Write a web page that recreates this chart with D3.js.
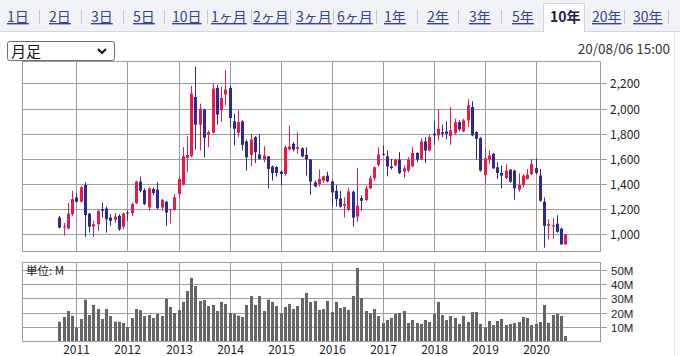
<!DOCTYPE html>
<html><head><meta charset="utf-8">
<script src="https://cdn.jsdelivr.net/npm/d3@7"></script>
<style>
html,body{margin:0;padding:0;background:#fff;}
svg{display:block;font-family:"Noto Sans CJK JP","Noto Sans",sans-serif;}
</style></head>
<body>
<svg id="c" width="680" height="356"></svg>
<script>
// ---- data ----
const tabs = ["1日","2日","3日","5日","10日","1ヶ月","2ヶ月","3ヶ月","6ヶ月","1年","2年","3年","5年","10年","20年","30年"];
const activeTab = "10年";
const periodLabel = "月足";
const stamp = "20/08/06 15:00";
const unitLabel = "単位: M";
const months = d3.utcMonth.range(new Date(Date.UTC(2010,8,1)), new Date(Date.UTC(2020,8,2)));
const open  = [1133,1055,1045,1160, 1293,1259,1392,1165,1061,1080,1200,1205,1133,1115,1147,1061,
  1173,1168,1248,1419,1352,1213,1360,1355,1213,1259,1195,1195,
  1320,1395,1608,1621,2093,1872,1992,1792,1808,2165,1987,2112,
  2165,1899,1808,1899,1739,1632,1773,1635,1595,1621,1539,1535,
  1499,1480,1675,1720,1680,1685,1632,1595,1413,1400,1427,1467,
  1421,1347,1285,1227,1195,1339,1141,1288,1272,1365,1445,1552,
  1640,1621,1540,1547,1595,1499,1507,1541,1648,1595,1739,1667,
  1800,1787,1813,1819,1781,1805,1893,1819,1907,2013,1813,1765,
  1472,1595,1640,1533,1488,1448,1515,1507,1355,1392,1440,1480,
  1525,1467,1259,1067,1061,1085,1045,920];
const high  = [1147,1090,1248,1347, 1330,1387,1413,1170,1107,1192,1253,1221,1160,1168,1160,1173,
  1187,1253,1427,1461,1365,1373,1373,1413,1280,1267,1200,1320,
  1467,1693,1781,2181,2333,2040,2000,1827,2200,2187,2173,2307,
  2187,1960,1987,1907,1755,1800,1781,1800,1701,1621,1547,1540,
  1507,1707,1867,1733,1813,1693,1693,1600,1427,1515,1467,1499,
  1427,1392,1347,1293,1373,1347,1525,1309,1387,1467,1541,1693,
  1707,1667,1600,1600,1653,1547,1613,1693,1653,1765,1773,1792,
  1899,1995,1872,1899,2013,1920,1907,1920,2075,2059,1819,1773,
  1680,1667,1648,1573,1547,1560,1520,1515,1485,1480,1520,1600,
  1605,1520,1293,1120,1128,1152,1053,1000];
const low   = [1048,990,1040,1147, 1253,1253,979,1013,981,1027,1133,1013,1067,1093,1027,1040,
  1107,1147,1240,1333,1232,1187,1312,1200,1187,1067,1088,1187,
  1285,1387,1493,1613,1675,1667,1613,1693,1800,1872,1893,2027,
  1853,1707,1773,1667,1507,1541,1568,1595,1573,1365,1427,1460,
  1387,1467,1667,1659,1640,1613,1467,1315,1373,1381,1408,1413,
  1221,1221,1213,1133,1187,1061,1099,1187,1267,1360,1427,1541,
  1627,1461,1515,1541,1480,1445,1493,1533,1573,1592,1568,1659,
  1712,1747,1773,1755,1712,1792,1819,1813,1853,1781,1595,1499,
  1408,1560,1520,1440,1365,1440,1408,1275,1339,1373,1435,1472,
  1480,1259,893,960,965,1013,917,917];
const close = [1053,1062,1165,1280, 1259,1373,1152,1061,1080,1187,1187,1120,1107,1141,1040,1165,
  1165,1240,1419,1347,1240,1365,1328,1208,1275,1173,1200,1293,
  1440,1621,1632,2120,1872,2000,1768,1813,2160,1952,2085,2152,
  1925,1840,1893,1712,1613,1755,1653,1600,1627,1520,1488,1488,
  1480,1693,1699,1675,1693,1619,1595,1419,1381,1440,1461,1421,
  1333,1280,1221,1240,1341,1133,1227,1267,1365,1445,1533,1635,
  1635,1539,1528,1592,1488,1525,1595,1648,1595,1739,1667,1773,
  1787,1840,1800,1800,1827,1893,1835,1907,2027,1787,1760,1507,
  1605,1627,1525,1488,1467,1507,1419,1365,1392,1467,1475,1560,
  1488,1267,1067,1080,1072,1019,920,1000];
const volume = [13.6,16.9,21.1,17.8, 9.4,15.5,29.1,18.3,25.4,22.5,15.5,22.5,17.6,13.6,13.6,12.7,
  9.9,16.2,22.5,21.8,17.6,18.3,16.2,19.0,17.6,29.6,23.9,19.7,
  21.8,27.5,35.2,44.4,38.7,28.2,28.9,24.6,25.4,21.1,27.5,26.1,
  19.7,19.0,17.8,16.9,25.4,31.7,25.4,31.7,21.1,29.1,27.5,24.6,
  19.5,23.9,26.1,22.5,24.6,30.3,33.8,27.5,28.2,21.8,22.5,28.2,
  20.4,27.5,23.2,23.9,21.8,31.7,51.4,30.3,21.1,19.5,22.5,17.6,
  12.7,14.8,16.2,19.0,19.7,21.1,12.7,14.8,12.7,12.0,14.8,13.4,
  19.0,27.5,18.3,14.8,17.6,16.2,12.0,17.6,13.4,20.4,20.4,12.0,
  9.4,14.1,11.3,14.1,15.5,11.3,12.0,12.7,13.4,16.9,16.2,11.3,
  12.0,13.4,25.4,12.7,18.3,19.0,17.6,3.5];
const priceTicks = [1000,1200,1400,1600,1800,2000,2200];
const volTicks = [10,20,30,40,50];
const yearTicks = d3.range(2011, 2021);

// ---- layout ----
const svg = d3.select("#c");
const L = 22, R = 601, PT = 61, PB = 251, VT = 262, VB = 341;
const gridColor = "#9d9d9d";
const upColor = "#e8194b", downColor = "#2b2a90";

// tab bar
svg.append("rect").attr("x",0).attr("y",0).attr("width",680).attr("height",31).attr("fill","#f1f2f6");
svg.append("line").attr("x1",0).attr("x2",680).attr("y1",31.5).attr("y2",31.5).attr("stroke","#d4d6dc");
svg.append("line").attr("x1",674.5).attr("x2",674.5).attr("y1",31).attr("y2",356).attr("stroke","#e2e4ea");
const tabX = [7,49,91,133,172,211,253,296,337,384,427,469,512,550,592,633];
const sepX = [39,81,123,164,207,251,290,333,376,417,458,501,624,668];
sepX.forEach(x => svg.append("line").attr("x1",x+0.5).attr("x2",x+0.5).attr("y1",10).attr("y2",24).attr("stroke","#c8c8c8"));
// active tab box
svg.append("path").attr("d","M543.5,32 V3.5 H584.5 V32").attr("fill","#fff").attr("stroke","#d4d6dc");
svg.append("rect").attr("x",544).attr("y",30).attr("width",40).attr("height",3).attr("fill","#fff");
tabs.forEach((t,i) => {
  const act = t === activeTab;
  svg.append("text").attr("x",tabX[i]).attr("y",22).text(t)
    .attr("font-size",14).attr("fill", act ? "#1d1d4f" : "#34429a")
    .attr("font-weight", act ? "bold" : "normal")
    .attr("text-decoration", act ? "none" : "underline");
});

// dropdown
svg.append("rect").attr("x",7.5).attr("y",41.5).attr("width",107).attr("height",19).attr("rx",2)
  .attr("fill","#fff").attr("stroke","#6e6e6e");
svg.append("text").attr("x",11).attr("y",57).text(periodLabel).attr("font-size",15).attr("fill","#111");
svg.append("path").attr("d","M98,49 L102,53 L106,49").attr("fill","none").attr("stroke","#111").attr("stroke-width",2);
svg.append("text").attr("x",670).attr("y",54).attr("text-anchor","end").text(stamp).attr("font-size",13.5).attr("fill","#333");

// scales
const x = d3.scaleUtc().domain([new Date(Date.UTC(2009,11,7)), new Date(Date.UTC(2021,3,13))]).range([L,R]);
const y = d3.scaleLinear().domain([867,2379]).range([PB,PT]);
const yv = d3.scaleLinear().domain([0,55.6]).range([VB,VT]);
const yearDate = yr => new Date(Date.UTC(yr,0,1));

// price panel grid
const gp = svg.append("g");
priceTicks.forEach(p => {
  const yy = Math.round(y(p))+0.5;
  gp.append("line").attr("x1",L).attr("x2",R+6).attr("y1",yy).attr("y2",yy).attr("stroke",gridColor);
  gp.append("text").attr("x",610).attr("y",yy+4.5).text(d3.format(",")(p)).attr("font-size",12).attr("fill","#222");
});
yearTicks.forEach(yr => {
  const xx = Math.round(x(yearDate(yr)))+0.5;
  gp.append("line").attr("x1",xx).attr("x2",xx).attr("y1",PT).attr("y2",PB).attr("stroke",gridColor);
});
gp.append("rect").attr("x",L+0.5).attr("y",PT+0.5).attr("width",R-L-1).attr("height",PB-PT).attr("fill","none").attr("stroke",gridColor);

// volume panel grid
const gv = svg.append("g");
volTicks.forEach(v => {
  const yy = Math.round(yv(v))+0.5;
  gv.append("line").attr("x1",L).attr("x2",R+6).attr("y1",yy).attr("y2",yy).attr("stroke",gridColor);
  gv.append("text").attr("x",611).attr("y",yy+4).text(v+"M")
    .attr("font-family","'Liberation Sans',Arial,sans-serif").attr("font-size",11.5).attr("fill","#222");
});
yearTicks.forEach(yr => {
  const xx = Math.round(x(yearDate(yr)))+0.5;
  gv.append("line").attr("x1",xx).attr("x2",xx).attr("y1",VT).attr("y2",VB).attr("stroke",gridColor);
  gv.append("text").attr("x",xx).attr("y",354).attr("text-anchor","middle").text(yr).attr("font-size",12).attr("fill","#222");
});
gv.append("rect").attr("x",L+0.5).attr("y",VT+0.5).attr("width",R-L-1).attr("height",VB-VT).attr("fill","none").attr("stroke",gridColor);
gv.append("text").attr("x",26).attr("y",275).text(unitLabel).attr("font-size",11.5).attr("fill","#222");

// volume bars
gv.selectAll("rect.v").data(months).join("rect").attr("class","v")
  .attr("x",(d)=>Math.round(x(d))-1).attr("width",3)
  .attr("y",(d,i)=>yv(volume[i])).attr("height",(d,i)=>VB-yv(volume[i]))
  .attr("fill","#666");

// candles
const gc = svg.append("g");
months.forEach((d,i) => {
  const cx = Math.round(x(d));
  const up = close[i] >= open[i];
  const col = up ? upColor : downColor;
  gc.append("line").attr("x1",cx+0.5).attr("x2",cx+0.5).attr("y1",y(high[i])).attr("y2",y(low[i])).attr("stroke",col);
  const top = y(Math.max(open[i],close[i])), bot = y(Math.min(open[i],close[i]));
  gc.append("rect").attr("x",cx-1).attr("width",3).attr("y",top).attr("height",Math.max(1,bot-top)).attr("fill",col);
});
</script>
</body></html>
